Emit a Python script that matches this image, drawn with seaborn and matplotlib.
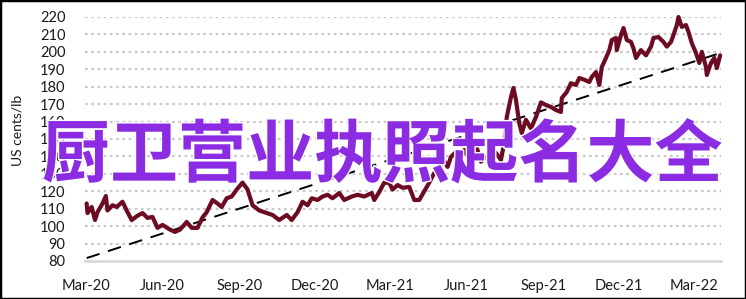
import numpy as np
import pandas as pd
import matplotlib
matplotlib.use("Agg")
import matplotlib.pyplot as plt
import matplotlib.dates as mdates
import matplotlib.patheffects as pe
from matplotlib.patches import Rectangle
import seaborn as sns

# ---- data ----
dates = [
    "2020-03-02", "2020-03-03", "2020-03-08", "2020-03-12", "2020-03-15", "2020-03-21", "2020-03-25",
    "2020-03-27", "2020-04-02", "2020-04-07", "2020-04-14", "2020-04-19", "2020-04-25", "2020-05-02",
    "2020-05-08", "2020-05-14", "2020-05-20", "2020-05-26", "2020-06-01", "2020-06-10", "2020-06-16",
    "2020-06-22", "2020-06-30", "2020-07-06", "2020-07-13", "2020-07-19", "2020-07-24", "2020-07-31",
    "2020-08-06", "2020-08-11", "2020-08-17", "2020-08-23", "2020-08-29", "2020-09-05", "2020-09-11",
    "2020-09-17", "2020-09-25", "2020-10-04", "2020-10-11", "2020-10-19", "2020-10-28", "2020-11-03",
    "2020-11-10", "2020-11-16", "2020-11-22", "2020-11-27", "2020-12-04", "2020-12-10", "2020-12-16",
    "2020-12-22", "2020-12-30", "2021-01-05", "2021-01-14", "2021-01-21", "2021-01-29", "2021-02-07",
    "2021-02-10", "2021-02-16", "2021-02-22", "2021-02-28", "2021-03-04", "2021-03-10", "2021-03-16",
    "2021-03-24", "2021-03-30", "2021-04-05", "2021-04-11", "2021-04-17", "2021-04-23", "2021-04-29",
    "2021-05-03", "2021-05-09", "2021-05-13", "2021-05-19", "2021-05-23", "2021-05-29", "2021-06-01",
    "2021-06-06", "2021-06-12", "2021-06-18", "2021-06-24", "2021-07-01", "2021-07-06", "2021-07-12",
    "2021-07-16", "2021-07-19", "2021-07-24", "2021-07-27", "2021-07-30", "2021-08-03", "2021-08-06",
    "2021-08-11", "2021-08-17", "2021-08-23", "2021-08-29", "2021-09-04", "2021-09-10", "2021-09-16",
    "2021-09-22", "2021-09-23", "2021-09-29", "2021-10-04", "2021-10-10", "2021-10-14", "2021-10-20",
    "2021-10-26", "2021-10-29", "2021-11-03", "2021-11-07", "2021-11-10", "2021-11-15", "2021-11-19",
    "2021-11-22", "2021-11-27", "2021-11-28", "2021-12-03", "2021-12-06", "2021-12-10", "2021-12-15",
    "2021-12-18", "2021-12-21", "2021-12-27", "2022-01-02", "2022-01-08", "2022-01-11", "2022-01-17",
    "2022-01-23", "2022-01-27", "2022-02-01", "2022-02-04", "2022-02-08", "2022-02-10", "2022-02-14",
    "2022-02-19", "2022-02-22", "2022-02-26", "2022-03-03", "2022-03-07", "2022-03-10", "2022-03-15",
    "2022-03-16", "2022-03-21", "2022-03-25", "2022-03-28", "2022-04-01",
]
prices = [
    113.0, 107.5, 111.0, 103.5, 108.0, 113.0, 117.3,
    109.0, 112.0, 111.0, 114.0, 109.0, 103.5, 106.0,
    107.5, 104.7, 105.3, 99.0, 100.7, 98.0, 96.7,
    98.0, 102.4, 99.0, 99.0, 105.0, 108.0, 115.0,
    113.0, 111.0, 116.0, 117.0, 121.0, 125.0, 121.0,
    112.0, 109.0, 107.5, 106.4, 103.5, 106.4, 103.5,
    108.0, 114.0, 112.0, 116.0, 115.0, 117.0, 118.0,
    116.0, 119.0, 115.0, 117.0, 118.0, 117.0, 119.0,
    115.0, 119.6, 125.0, 124.8, 121.0, 123.6, 122.0,
    122.5, 115.0, 115.0, 120.0, 125.0, 130.5, 132.0,
    139.0, 134.0, 139.7, 142.5, 138.0, 143.7, 141.0,
    142.5, 146.5, 137.0, 139.7, 138.0, 142.0, 138.0,
    148.0, 162.6, 174.0, 179.3, 172.4, 159.0, 153.4,
    161.0, 156.0, 162.6, 171.0, 169.5, 168.4, 166.6,
    165.5, 173.5, 177.0, 182.0, 181.0, 185.0, 184.0,
    182.7, 185.6, 188.4, 181.0, 191.3, 196.5, 201.0,
    206.8, 208.0, 201.0, 209.7, 213.7, 206.8, 205.7,
    202.0, 196.5, 201.0, 198.0, 203.0, 208.0, 208.5,
    205.7, 203.0, 205.7, 209.7, 215.4, 220.0, 214.3,
    215.4, 211.4, 205.0, 199.3, 193.6, 200.0, 191.3,
    186.7, 193.6, 196.5, 190.7, 198.0,
]
trend_dates = ["2020-03-02", "2022-04-01"]
trend_values = [81.7, 199.3]

tick_dates = ["2020-03-01", "2020-06-01", "2020-09-01", "2020-12-01", "2021-03-01",
              "2021-06-01", "2021-09-01", "2021-12-01", "2022-03-01"]
tick_labels = ["Mar-20", "Jun-20", "Sep-20", "Dec-20", "Mar-21",
               "Jun-21", "Sep-21", "Dec-21", "Mar-22"]
y_ticks = [80, 90, 100, 110, 120, 130, 140, 150, 160, 170, 180, 190, 200, 210, 220]
y_label = "US cents/lb"
overlay_text = "厨卫营业执照起名大全"

df = pd.DataFrame({"date": pd.to_datetime(dates), "price": prices})
tdf = pd.DataFrame({"date": pd.to_datetime(trend_dates), "price": trend_values})

sns.set_theme(style="white")
plt.rcParams["font.family"] = ["Lato", "DejaVu Sans"]

W, H = 746, 299
fig = plt.figure(figsize=(W / 100, H / 100), dpi=100)
ax = fig.add_axes([85 / W, 1 - 261 / H, (721 - 85) / W, (261 - 17) / H])

sns.lineplot(data=tdf, x="date", y="price", ax=ax, color="black", linewidth=1.4,
             dashes=False, zorder=3)
ax.lines[-1].set_dashes([7, 4.5])
sns.lineplot(data=df, x="date", y="price", ax=ax, color="#6B0C22", linewidth=3.0,
             zorder=4)
for ln in ax.lines:
    ln.set_clip_on(False)
    ln.set_solid_joinstyle("round")

ax.set_ylim(80, 220)
ax.set_xlim(pd.Timestamp("2020-02-29"), pd.Timestamp("2022-04-02"))
ax.set_yticks(y_ticks)
ax.set_xticks(pd.to_datetime(tick_dates))
ax.set_xticklabels(tick_labels)
ax.tick_params(axis="both", length=0, labelsize=10.5, colors="#1a1a1a")
ax.tick_params(axis="y", pad=14)
ax.tick_params(axis="x", pad=13)

for v in y_ticks[1:]:
    ax.axhline(v, color="#c9c9c9", linestyle=(0, (1.2, 1.6)), linewidth=1.6, zorder=1)

for s in ["top", "right", "left"]:
    ax.spines[s].set_visible(False)
ax.spines["bottom"].set_color("#d9d9d9")
ax.spines["bottom"].set_linewidth(2)
ax.spines["bottom"].set_zorder(2)

ax.set_xlabel("")
ax.set_ylabel("")
fig.text(18 / W, 1 - 130 / H, y_label, rotation=90, ha="center", va="center",
         fontsize=10, color="#1a1a1a")

fig.text(382 / W, 1 - 157 / H, overlay_text, ha="center", va="center",
         fontsize=49, color="#8B2BE2", fontweight="bold",
         family=["Noto Sans CJK SC", "DejaVu Sans"], zorder=10,
         path_effects=[pe.withStroke(linewidth=2, foreground="white")])

fig.patches.append(Rectangle((0, 0), 1, 1, transform=fig.transFigure, fill=False,
                             edgecolor="black", linewidth=2.5, zorder=20))

fig.savefig("out.png", dpi=100)
